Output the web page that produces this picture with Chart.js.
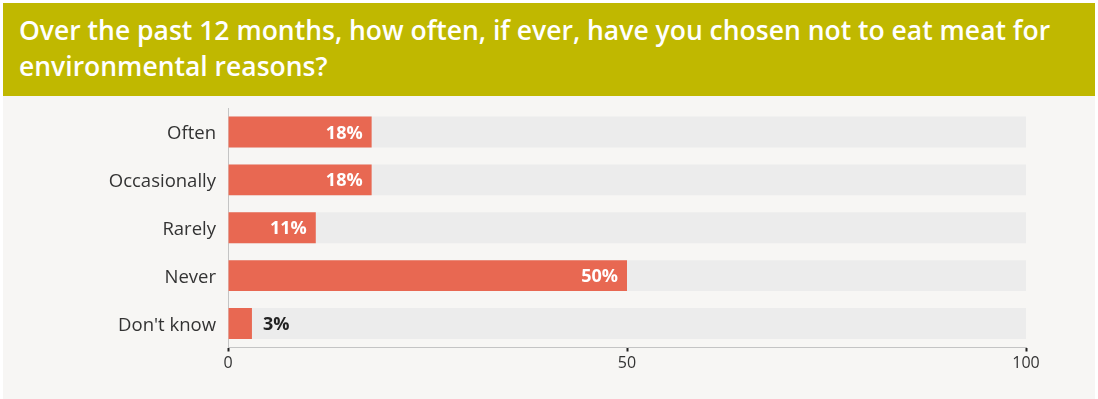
<!DOCTYPE html>
<html>
<head>
<meta charset="utf-8">
<script src="https://cdn.jsdelivr.net/npm/chart.js@4"></script>
<style>
  html, body { margin: 0; padding: 0; background: #fff; }
  body { width: 1098px; height: 399px; overflow: hidden; font-family: "Open Sans", sans-serif; }
  .card { position: absolute; left: 3px; top: 3px; width: 1092px; height: 396px; background: #f7f6f4; }
  .card h1 {
    margin: 0; height: 93px; box-sizing: border-box; padding: 9px 16px 0 16px;
    background: #c0b800; color: #fff; font-size: 26.5px; font-weight: 600; line-height: 36px;
  }
  .plot { position: relative; width: 1092px; height: 303px; }
</style>
</head>
<body>
<div class="card">
  <h1>Over the past 12 months, how often, if ever, have you chosen not to eat meat for environmental reasons?</h1>
  <div class="plot"><canvas id="meatChart"></canvas></div>
</div>
<script>
const categories = ['Often', 'Occasionally', 'Rarely', 'Never', "Don't know"];
const shares = [18, 18, 11, 50, 3];
const fullScale = [100, 100, 100, 100, 100];
const xTicks = [0, 50, 100];

// percentage labels: white inside the bar, dark beside it when the bar is too short
const barLabels = {
  id: 'barLabels',
  afterDatasetsDraw(chart) {
    const ctx = chart.ctx;
    const meta = chart.getDatasetMeta(1);
    ctx.save();
    ctx.font = 'bold 18px "Open Sans", sans-serif';
    ctx.textBaseline = 'middle';
    meta.data.forEach((bar, i) => {
      const v = shares[i];
      const txt = v + '%';
      if (v >= 8) {
        ctx.fillStyle = '#ffffff';
        ctx.textAlign = 'right';
        ctx.fillText(txt, bar.x - 9, bar.y + 1.5);
      } else {
        ctx.fillStyle = '#222222';
        ctx.textAlign = 'left';
        ctx.fillText(txt, bar.x + 11, bar.y + 1.5);
      }
    });
    ctx.restore();
  }
};

new Chart(document.getElementById('meatChart'), {
  type: 'bar',
  data: {
    labels: categories,
    datasets: [
      {
        data: fullScale,
        backgroundColor: '#ececec',
        grouped: false,
        order: 2,
        categoryPercentage: 1,
        barPercentage: 0.646
      },
      {
        data: shares,
        backgroundColor: '#e86852',
        grouped: false,
        order: 1,
        categoryPercentage: 1,
        barPercentage: 0.646
      }
    ]
  },
  options: {
    indexAxis: 'y',
    responsive: true,
    maintainAspectRatio: false,
    animation: false,
    layout: { padding: { top: 12, right: 69, bottom: 11.5, left: 0 } },
    plugins: { legend: { display: false }, tooltip: { enabled: false }, title: { display: false } },
    scales: {
      x: {
        min: 0,
        max: 100,
        afterBuildTicks: s => { s.ticks = xTicks.map(v => ({ value: v })); },
        afterFit: s => { s.height = 40; s.paddingLeft = 0; s.paddingRight = 0; },
        border: { display: true, color: '#c4c4c4', width: 1 },
        grid: { drawOnChartArea: false, drawTicks: true, tickLength: 4, tickWidth: 2, tickColor: '#222' },
        ticks: { color: '#333', font: { family: 'Open Sans', size: 16 }, padding: 2 }
      },
      y: {
        afterFit: s => { s.width = 225; s.paddingTop = 0; s.paddingBottom = 0; },
        border: { display: true, color: '#c4c4c4', width: 1 },
        grid: { display: true, color: 'rgba(0,0,0,0)', drawTicks: false },
        ticks: { color: '#333', font: { family: 'Open Sans', size: 18.5 }, padding: 12, labelOffset: 2 }
      }
    }
  },
  plugins: [barLabels]
});
</script>
</body>
</html>
